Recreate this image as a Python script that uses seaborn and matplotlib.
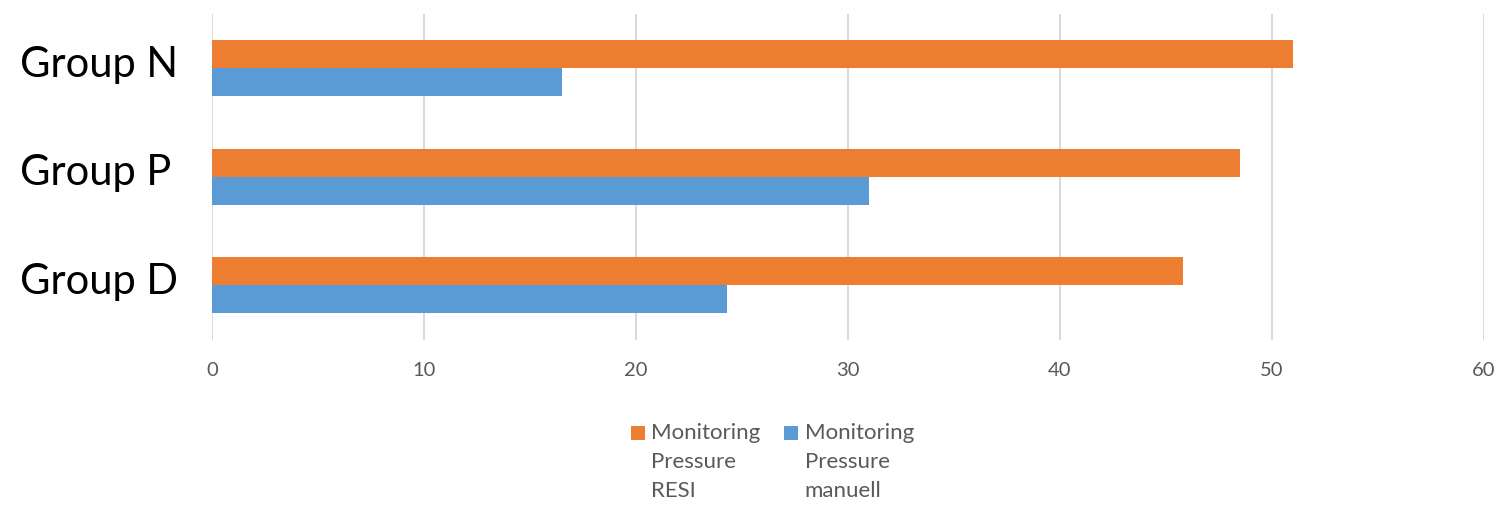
import seaborn as sns
import matplotlib.pyplot as plt
import pandas as pd
from matplotlib.legend_handler import HandlerPatch
from matplotlib.patches import Rectangle
from matplotlib.transforms import ScaledTranslation

groups = ["Group N", "Group P", "Group D"]
series = ["Monitoring\nPressure\nRESI", "Monitoring\nPressure\nmanuell"]
resi = [51.0, 48.5, 45.8]
manuell = [16.5, 31.0, 24.3]
xticks = [0, 10, 20, 30, 40, 50, 60]
colors = ["#ED7D31", "#5B9BD5"]

df = pd.DataFrame({
    "group": groups * 2,
    "series": [series[0]] * len(groups) + [series[1]] * len(groups),
    "value": resi + manuell,
})

sns.set_theme(style="white")
plt.rcParams['font.family'] = ['Lato', 'DejaVu Sans']

fig = plt.figure(figsize=(14.99, 5.05), dpi=100)
ax = fig.add_axes([212 / 1499, 1 - 339.5 / 505, (1484 - 212) / 1499, (339.5 - 13.75) / 505])
sns.barplot(data=df, y="group", x="value", hue="series", order=groups,
            hue_order=series, palette=colors, width=0.515, orient="h",
            saturation=1, ax=ax, linewidth=0)

handles, labels = ax.get_legend_handles_labels()
if ax.get_legend() is not None:
    ax.get_legend().remove()

ax.set_xlim(0, 60)
ax.set_xticks(xticks)
ax.set_xlabel("")
ax.set_ylabel("")
ax.grid(axis="x", color="#D9D9D9", linewidth=1.4)
ax.grid(axis="y", visible=False)
ax.set_axisbelow(True)
for s in ax.spines.values():
    s.set_visible(False)
ax.tick_params(axis="x", length=0, pad=16, labelsize=14.5, labelcolor="#595959")
ax.tick_params(axis="y", length=0, pad=138, labelsize=30, labelcolor="black")
shift = ScaledTranslation(0, 7 / 100, fig.dpi_scale_trans)
for lab in ax.get_yticklabels():
    lab.set_ha("left")
    lab.set_transform(lab.get_transform() + shift)


class TopSquare(HandlerPatch):
    def __init__(self, yoff=0, **kw):
        super().__init__(**kw)
        self.yoff = yoff

    def create_artists(self, legend, orig_handle, xdescent, ydescent, width,
                       height, fontsize, trans):
        p = Rectangle((-xdescent, -ydescent + self.yoff), width, height,
                      facecolor=orig_handle.get_facecolor(), edgecolor="none",
                      transform=trans)
        return [p]


fs = 16
leg = fig.legend(handles, labels, loc="upper left", bbox_to_anchor=(631 / 1499, 1 - 423 / 505),
                 ncol=2, frameon=False, fontsize=fs, handlelength=0.62, handleheight=0.62,
                 handletextpad=0.3, columnspacing=1.06, labelcolor="#595959",
                 borderpad=0, borderaxespad=0,
                 handler_map={Rectangle: TopSquare(yoff=21.2)})
for t in leg.get_texts():
    t.set_linespacing(1.57)

fig.savefig("out.png", dpi=100)
